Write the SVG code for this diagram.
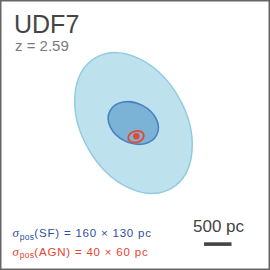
<svg xmlns="http://www.w3.org/2000/svg" width="270" height="270" viewBox="0 0 270 270">
<style>
text{font-family:"Liberation Sans",Arial,sans-serif}
.title{font-size:25px;fill:#454545}
.z{font-size:15px;fill:#7a7a7a}
.scale{font-size:17px;fill:#444}
.leg{font-size:11.5px;letter-spacing:0.8px}
.sub{font-size:8.5px;letter-spacing:0.3px}
.sig{font-style:italic;font-family:"Liberation Serif","DejaVu Serif",serif;font-size:13px}
</style>
<rect x="0.75" y="0.75" width="268.5" height="268.5" fill="#fff" stroke="#666" stroke-width="1.5"/>
<g id="title">
<text class="title" x="14" y="33">UDF7</text>
<text class="z" x="15" y="51">z = 2.59</text>
</g>
<g id="galaxy">
<ellipse cx="133.5" cy="123" rx="52" ry="75.5" transform="rotate(-30 133.5 123)" fill="#bde2ee" stroke="#93cbe1" stroke-width="1.5"/>
<ellipse id="sf" cx="133.3" cy="123" rx="26.3" ry="19.8" transform="rotate(27 133.3 123)" fill="#7bb3d6" stroke="#4b81c1" stroke-width="1.6"/>
<ellipse id="agn" cx="136" cy="136.7" rx="8" ry="5.6" transform="rotate(-15 136 136.7)" fill="none" stroke="#e8472e" stroke-width="1.8"/>
<circle cx="136.3" cy="136.3" r="3.2" fill="#e8472e"/>
</g>
<g id="scalebar">
<text class="scale" x="218.5" y="231.5" text-anchor="middle">500 pc</text>
<rect x="204" y="242.3" width="27.5" height="3.6" fill="#444"/>
</g>
<g id="legend">
<text class="leg" x="12.5" y="237" fill="#2d4fa0"><tspan class="sig">σ</tspan><tspan class="sub" dy="2.5">pos</tspan><tspan dy="-2.5">(SF) = 160 × 130 pc</tspan></text>
<text class="leg" x="12.5" y="255.5" fill="#e8432d"><tspan class="sig">σ</tspan><tspan class="sub" dy="2.5">pos</tspan><tspan dy="-2.5">(AGN) = 40 × 60 pc</tspan></text>
</g>
</svg>
